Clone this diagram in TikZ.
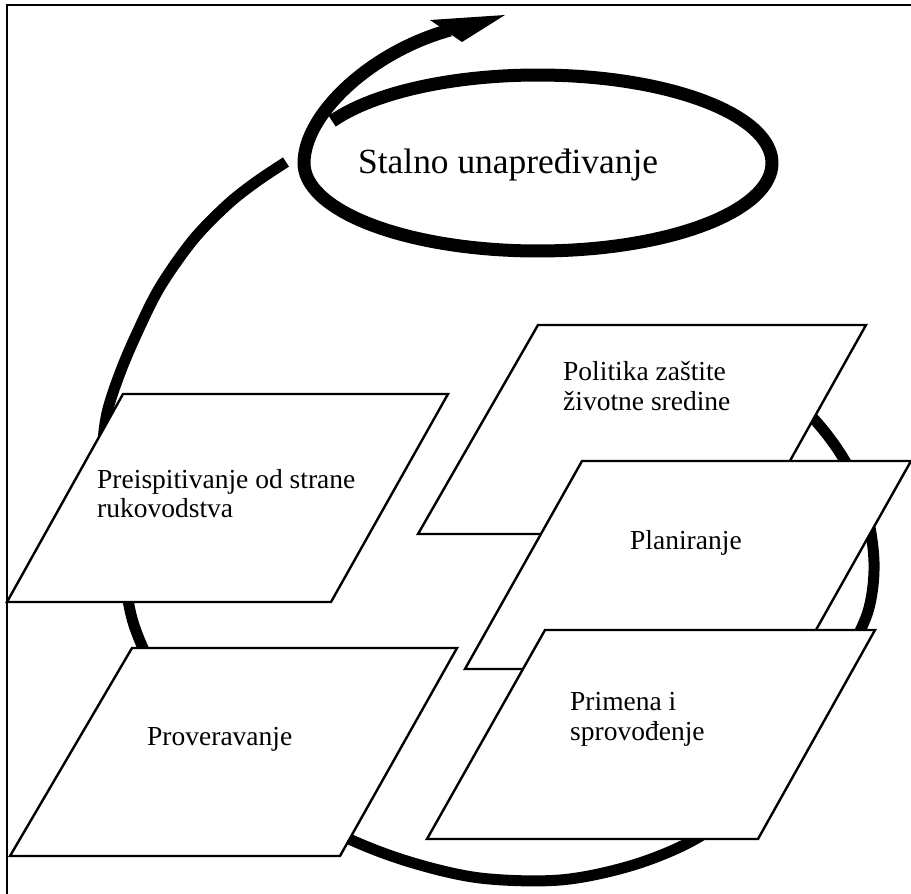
\documentclass[tikz,border=0pt]{standalone}
\usepackage{fontspec}
\setmainfont{Liberation Serif}
\begin{document}
\begin{tikzpicture}[x=1pt,y=-1pt,
  para/.style={draw=black, fill=white, line width=2.4pt, line join=miter},
  lbl/.style={anchor=base west, inner sep=0pt, font=\fontsize{27.5}{30}\selectfont},
  biglbl/.style={anchor=base west, inner sep=0pt, font=\fontsize{35.4}{40}\selectfont},
  bigarc/.style={draw=black, line width=11pt, line cap=butt},
  looparc/.style={draw=black, line width=13pt, line cap=butt},
  framel/.style={draw=black, line width=2pt}]
\useasboundingbox (0,0) rectangle (911,894);
\fill[white] (0,0) rectangle (911,894);
% frame (top and left only)
\draw[framel] (7,894) -- (7,5) -- (911,5);
% big outer arc
\draw[bigarc] plot[smooth, tension=0.55] coordinates {
 (770,380) (813,418) (845,461) (866,510) (874,562) (869,608) (851,650)
 (823,708) (786,763) (740,808) (690,842) (630,866) (560,880) (480,878)
 (410,862) (347,838) (290,805) (232,760) (186,712) (156,672) (143,648)
 (133,622) (127,595) (118,545) (108,490) (103,450) (107,413) (120,373)
 (137,333) (160,287) (193,240) (227,205) (256,182) (286,162)};
% small loop with arrow
\draw[looparc] plot[domain=0:331.6, samples=140, variable=\t]
  ({538+234*cos(151.6-\t)},{163-88*sin(151.6-\t)})
  .. controls (304,115) and (370,52) .. (450,30);
\coordinate (ahA) at (430,20);
\coordinate (ahT) at (505,15);
\coordinate (ahB) at (462,42);
\fill[black] (ahA) -- (ahT) -- (ahB) -- cycle;
\node[biglbl] (stalno) at (358,173) {Stalno unapređivanje};
% parallelograms
\draw[para] (123,394) -- (448,394) -- (331,602) -- (7,602) -- cycle;
\node[lbl] (preis1) at (97,488) {Preispitivanje od strane};
\node[lbl] (preis2) at (97,517) {rukovodstva};
\draw[para] (132,648) -- (457,648) -- (340,856) -- (10,856) -- cycle;
\node[lbl] (prov) at (147,745) {Proveravanje};
\draw[para] (538,325) -- (866,325) -- (749,534) -- (418,534) -- cycle;
\node[lbl] (pol1) at (563,380) {Politika zaštite};
\node[lbl] (pol2) at (563,410) {životne sredine};
\draw[para] (582,461) -- (911,461) -- (794,669) -- (465,669) -- cycle;
\node[lbl] (plan) at (630,549) {Planiranje};
\draw[para] (545,630) -- (875,630) -- (758,839) -- (427,839) -- cycle;
\node[lbl] (prim1) at (570,710) {Primena i};
\node[lbl] (prim2) at (570,740) {sprovođenje};
\end{tikzpicture}
\end{document}
